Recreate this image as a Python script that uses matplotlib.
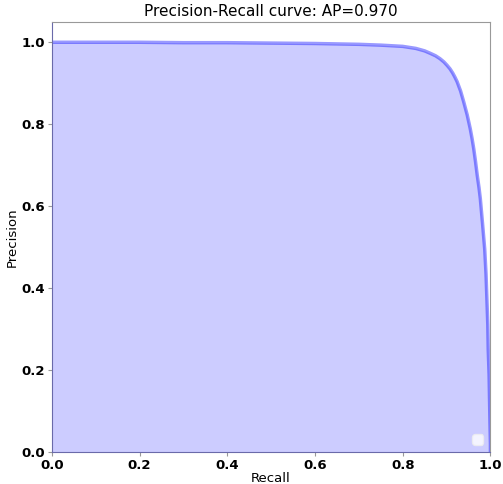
import matplotlib
matplotlib.use('Agg')
import matplotlib.pyplot as plt

# values
recall = [0.0, 0.1, 0.2, 0.3, 0.4, 0.5, 0.6, 0.7, 0.75, 0.8, 0.83, 0.85, 0.863,
          0.875, 0.885, 0.894, 0.901, 0.908, 0.914, 0.919, 0.924, 0.932, 0.939,
          0.947, 0.954, 0.958, 0.962, 0.966, 0.970, 0.974, 0.977, 0.982, 0.987,
          0.990, 0.992, 0.994, 0.995, 0.997, 0.998, 0.999, 1.0, 1.0]
precision = [1.0, 1.0, 1.0, 0.999, 0.999, 0.998, 0.997, 0.995, 0.993, 0.99, 0.985,
             0.979, 0.973, 0.967, 0.96, 0.952, 0.944, 0.935, 0.925, 0.915, 0.904,
             0.881, 0.855, 0.823, 0.789, 0.766, 0.740, 0.709, 0.675, 0.645, 0.618,
             0.558, 0.495, 0.434, 0.373, 0.311, 0.25, 0.188, 0.127, 0.07, 0.02, 0.0]
ap = 0.970
ticks = [0.0, 0.2, 0.4, 0.6, 0.8, 1.0]

fig = plt.figure(figsize=(5.03, 4.84), dpi=100)
ax = fig.add_axes([0.103, 0.066, 0.872, 0.889])

ax.fill_between(recall, precision, 0, color='b', alpha=0.2, lw=0)
ax.plot(recall, precision, color='b', alpha=0.4, lw=2.5)

ax.set_xlim(0.0, 1.0)
ax.set_ylim(0.0, 1.05)
ax.set_xticks(ticks)
ax.set_yticks(ticks)
ax.set_xticklabels(['%.1f' % t for t in ticks], fontweight='bold', fontsize=9.5)
ax.set_yticklabels(['%.1f' % t for t in ticks], fontweight='bold', fontsize=9.5)
ax.tick_params(direction='out', length=3, width=0.8, color='#999999', pad=2)

for s in ['top', 'right']:
    ax.spines[s].set_color('#999999')
for s in ['left', 'bottom']:
    ax.spines[s].set_color('#6a6aaa')

ax.set_xlabel('Recall', fontsize=9.5, labelpad=0)
ax.set_ylabel('Precision', fontsize=9.5, labelpad=2)
ax.set_title('Precision-Recall curve: AP={0:0.3f}'.format(ap), fontsize=11, pad=4)

leg = ax.legend(handles=[], loc='lower right')
leg.get_frame().set_edgecolor('#eeeeee')

fig.savefig('out.png', dpi=100)
